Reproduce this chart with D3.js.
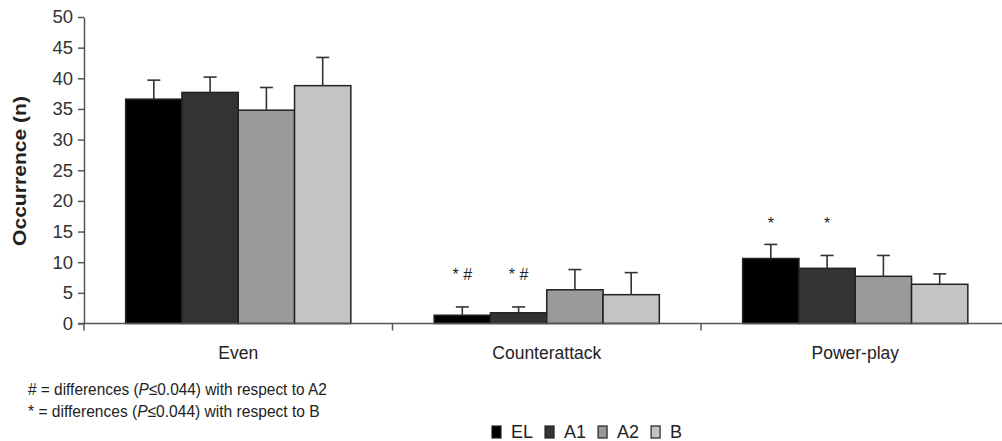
<!DOCTYPE html>
<html>
<head>
<meta charset="utf-8">
<script src="https://cdn.jsdelivr.net/npm/d3@7"></script>
<style>
  html, body { margin: 0; padding: 0; background: #fff; }
  svg { display: block; font-family: "Liberation Sans", Arial, sans-serif; }
</style>
</head>
<body>
<svg id="chart" width="1002" height="441"></svg>
<script>
// ---- data ----
const categories = ["Even", "Counterattack", "Power-play"];
const series = ["EL", "A1", "A2", "B"];
const meanEL = [36.6, 1.35, 10.6];
const meanA1 = [37.7, 1.75, 9.0];
const meanA2 = [34.8, 5.5, 7.7];
const meanB  = [38.8, 4.7, 6.4];
const upperEL = [39.7, 2.7, 12.9];
const upperA1 = [40.2, 2.7, 11.1];
const upperA2 = [38.5, 8.8, 11.1];
const upperB  = [43.4, 8.3, 8.1];
const yTicks = [0, 5, 10, 15, 20, 25, 30, 35, 40, 45, 50];
const annotCategory = ["Counterattack", "Counterattack", "Power-play", "Power-play"];
const annotSeries   = ["EL", "A1", "EL", "A1"];
const annotLabel    = ["* #", "* #", "*", "*"];
const annotLevel    = [7.1, 7.1, 15.4, 15.4];
const footnotes = [
  ["# = differences (", "P", "\u22640.044) with respect to A2"],
  ["* = differences (", "P", "\u22640.044) with respect to B"]
];

const colors = { EL: "#000000", A1: "#333333", A2: "#9a9a9a", B: "#c4c4c4" };
const means = { EL: meanEL, A1: meanA1, A2: meanA2, B: meanB };
const uppers = { EL: upperEL, A1: upperA1, A2: upperA2, B: upperB };

const rows = [];
categories.forEach((c, i) => series.forEach(s => rows.push({ cat: c, ser: s, v: means[s][i], up: uppers[s][i] })));

const svg = d3.select("#chart");
const textCol = "#222";

const y = d3.scaleLinear().domain([0, 50]).range([323.5, 17]);
const x0 = d3.scaleBand().domain(categories).range([84, 84 + 3 * 308.5]).padding(0);
const x1 = d3.scaleBand().domain(series).range([0, x0.bandwidth()]).paddingInner(0).paddingOuter(0.74);

// bars
svg.append("g").selectAll("rect").data(rows).join("rect")
  .attr("x", d => x0(d.cat) + x1(d.ser))
  .attr("y", d => y(d.v))
  .attr("width", x1.bandwidth())
  .attr("height", d => y(0) - y(d.v))
  .attr("fill", d => colors[d.ser])
  .attr("stroke", "#222")
  .attr("stroke-width", 1.5);

// error bars (upper only)
const eg = svg.append("g").attr("stroke", "#333").attr("stroke-width", 1.6);
eg.selectAll("line.v").data(rows).join("line").attr("class", "v")
  .attr("x1", d => x0(d.cat) + x1(d.ser) + x1.bandwidth() / 2)
  .attr("x2", d => x0(d.cat) + x1(d.ser) + x1.bandwidth() / 2)
  .attr("y1", d => y(d.v))
  .attr("y2", d => y(d.up));
eg.selectAll("line.c").data(rows).join("line").attr("class", "c")
  .attr("x1", d => x0(d.cat) + x1(d.ser) + x1.bandwidth() / 2 - 6.5)
  .attr("x2", d => x0(d.cat) + x1(d.ser) + x1.bandwidth() / 2 + 6.5)
  .attr("y1", d => y(d.up))
  .attr("y2", d => y(d.up));

// y axis
const yAxis = d3.axisLeft(y).tickValues(yTicks).tickSize(6).tickPadding(5).tickSizeOuter(0);
const gy = svg.append("g").attr("transform", "translate(84,0)").call(yAxis);
gy.select(".domain").attr("stroke", "#555").attr("stroke-width", 1.5);
gy.selectAll(".tick line").attr("stroke", "#555").attr("stroke-width", 1.5);
gy.selectAll(".tick text").attr("font-size", 18.5).attr("fill", "#333")
  .attr("font-family", "Liberation Sans, Arial, sans-serif");

// x axis
const xAxis = d3.axisBottom(x0).tickSize(0).tickPadding(23).tickSizeOuter(0);
const gx = svg.append("g").attr("transform", `translate(0,${y(0)})`).call(xAxis);
gx.select(".domain").attr("d", `M78,0H1002`).attr("stroke", "#555").attr("stroke-width", 1.5);
gx.selectAll(".tick text").attr("font-size", 17.5).attr("fill", textCol)
  .attr("font-family", "Liberation Sans, Arial, sans-serif");
// category separator ticks
gx.append("g").selectAll("line").data(categories).join("line")
  .attr("x1", d => x0(d)).attr("x2", d => x0(d))
  .attr("y1", 0).attr("y2", 7)
  .attr("stroke", "#555").attr("stroke-width", 1.5);

// y title
svg.append("text")
  .attr("transform", "translate(26,171) rotate(-90)")
  .attr("text-anchor", "middle")
  .attr("font-size", 19).attr("font-weight", "bold").attr("fill", textCol)
  .attr("textLength", 150).attr("lengthAdjust", "spacingAndGlyphs")
  .text("Occurrence (n)");

// annotations
svg.append("g").selectAll("text").data(annotLabel.map((l, i) => ({ l, c: annotCategory[i], s: annotSeries[i], v: annotLevel[i] })))
  .join("text")
  .attr("x", d => x0(d.c) + x1(d.s) + x1.bandwidth() / 2)
  .attr("y", d => y(d.v))
  .attr("text-anchor", "middle")
  .attr("font-size", 16).attr("fill", textCol)
  .attr("xml:space", "preserve")
  .text(d => d.l);

// footnotes (slightly condensed, as in the reference)
const footLen = [299, 292];
footnotes.forEach((f, i) => {
  const g = svg.append("g");
  const t = g.append("text").attr("x", 0).attr("y", 0)
    .attr("font-size", 16.5).attr("fill", textCol);
  t.append("tspan").text(f[0]);
  t.append("tspan").attr("font-style", "italic").text(f[1]);
  t.append("tspan").text(f[2]);
  const w = t.node().getComputedTextLength();
  g.attr("transform", `translate(28,${395 + i * 22}) scale(${footLen[i] / w},1)`);
});

// legend
const lg = svg.append("g").attr("transform", "translate(492,438)");
let lx = 0;
series.forEach(s => {
  lg.append("rect").attr("x", lx).attr("y", -12).attr("width", 9).attr("height", 12)
    .attr("fill", colors[s]).attr("stroke", "#222").attr("stroke-width", 1.2);
  const t = lg.append("text").attr("x", lx + 19).attr("y", 0).attr("font-size", 18).attr("fill", textCol).text(s);
  lx += 19 + t.node().getComputedTextLength() + 12;
});
</script>
</body>
</html>
